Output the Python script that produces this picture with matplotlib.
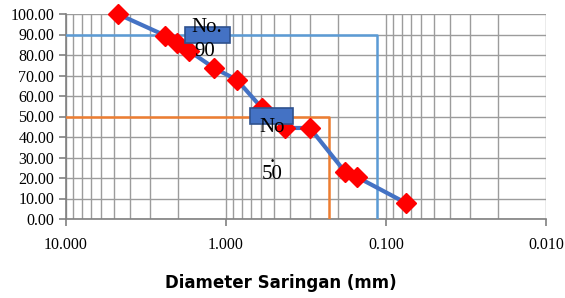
import numpy as np
import matplotlib.pyplot as plt
from matplotlib.patches import Rectangle
from matplotlib.ticker import LogLocator, FixedLocator

# sieve data
diameter = [4.75, 2.40, 2.02, 1.70, 1.19, 0.853, 0.596, 0.428, 0.299, 0.180, 0.152, 0.075]
passing = [100.0, 89.5, 85.9, 82.0, 73.7, 67.8, 54.1, 44.4, 44.4, 22.9, 20.5, 7.8]

d90 = 0.114
d50 = 0.227
x_ticks = [10.0, 1.0, 0.1, 0.01]
x_ticklabels = ["10.000", "1.000", "0.100", "0.010"]
y_ticks = np.arange(0, 101, 10)

serif = "Liberation Serif"

fig = plt.figure(figsize=(5.65, 2.98), dpi=100)
ax = fig.add_axes([66 / 565, 1 - 219 / 298, 480 / 565, 205 / 298])

ax.set_xscale("log")
ax.set_xlim(10, 0.01)
ax.set_ylim(0, 100)

# reference lines
ax.plot([10, d90, d90], [90, 90, 0], color="#5B9BD5", lw=1.8, zorder=3)
ax.plot([10, d50, d50], [50, 50, 0], color="#ED7D31", lw=1.8, zorder=3)

# grading curve
ax.plot(diameter, passing, color="#4472C4", lw=3, marker="D", markersize=10,
        markerfacecolor="red", markeredgecolor="red", zorder=4, clip_on=False)

ax.xaxis.set_major_locator(FixedLocator(x_ticks))
ax.set_xticklabels(x_ticklabels)
ax.xaxis.set_minor_locator(LogLocator(base=10, subs=np.arange(2, 10)))
ax.set_yticks(y_ticks)
ax.set_yticklabels(["%.2f" % v for v in y_ticks])

ax.grid(True, which="both", color="#9c9c9c", lw=1.0)
ax.set_axisbelow(True)

for s in ["top", "right"]:
    ax.spines[s].set_visible(False)
for s in ["left", "bottom"]:
    ax.spines[s].set_color("#808080")
    ax.spines[s].set_linewidth(1.2)

ax.tick_params(axis="both", which="major", length=5, color="#808080", width=1.2,
               labelsize=11.5)
ax.tick_params(axis="x", which="minor", length=0)
for lab in ax.get_xticklabels() + ax.get_yticklabels():
    lab.set_fontfamily(serif)
ax.tick_params(axis="x", pad=8)

# text boxes
ax.add_patch(Rectangle((0.248, 0.859), 0.094, 0.078, transform=ax.transAxes,
                       facecolor="#4472C4", edgecolor="#2F528F", lw=1.2, zorder=5))
ax.text(0.293, 0.935, "No.", transform=ax.transAxes, ha="center", va="center",
        fontsize=15, family=serif, zorder=6)
ax.text(0.290, 0.815, "90", transform=ax.transAxes, ha="center", va="center",
        fontsize=15, family=serif, zorder=6)

ax.add_patch(Rectangle((0.383, 0.463), 0.090, 0.078, transform=ax.transAxes,
                       facecolor="#4472C4", edgecolor="#2F528F", lw=1.2, zorder=5))
ax.text(0.429, 0.444, "No", transform=ax.transAxes, ha="center", va="center",
        fontsize=15, family=serif, zorder=6)
ax.text(0.429, 0.30, ".", transform=ax.transAxes, ha="center", va="center",
        fontsize=15, family=serif, zorder=6)
ax.text(0.429, 0.215, "50", transform=ax.transAxes, ha="center", va="center",
        fontsize=15, family=serif, zorder=6)

fig.text(281 / 565, 1 - 283 / 298, "Diameter Saringan (mm)", ha="center", va="center",
         fontsize=12, fontweight="bold", family="DejaVu Sans")

fig.savefig("out.png", dpi=100)
